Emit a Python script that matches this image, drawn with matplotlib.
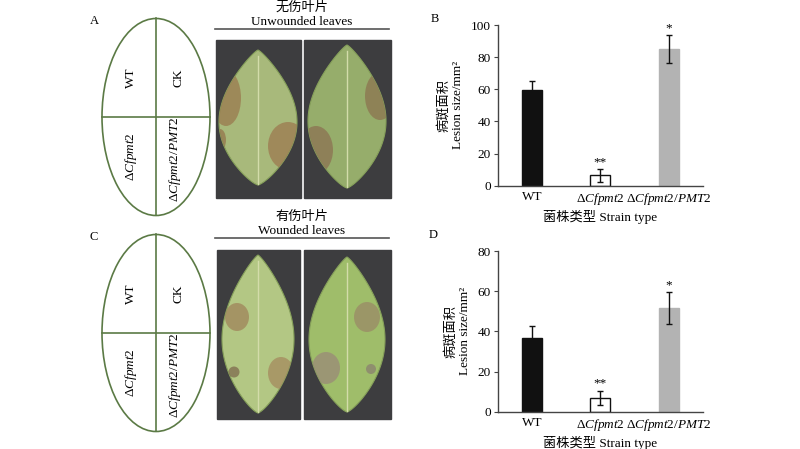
import numpy as np
import matplotlib
matplotlib.use("Agg")
import matplotlib.pyplot as plt
from matplotlib.patches import Ellipse, Rectangle, Polygon

plt.rcParams['font.family'] = ['Liberation Serif', 'Noto Sans CJK SC']
plt.rcParams['mathtext.fontset'] = 'custom'
plt.rcParams['mathtext.rm'] = 'Liberation Serif'
plt.rcParams['mathtext.it'] = 'Liberation Serif:italic'

# data
strains = ['WT', r'$\Delta\mathit{Cfpmt2}$', r'$\Delta\mathit{Cfpmt2/PMT2}$']
bar_colors = ['#111111', '#ffffff', '#b3b3b3']
unwounded_mean = [59.5, 6.5, 85.0]
unwounded_err = [5.5, 4.0, 8.5]
wounded_mean = [36.5, 7.0, 51.5]
wounded_err = [6.0, 3.5, 8.0]
signif = ['', '**', '*']
quadrants = ['WT', 'CK', r'$\Delta\mathit{Cfpmt2}$', r'$\Delta\mathit{Cfpmt2/PMT2}$']

W, H = 800, 449
fig = plt.figure(figsize=(8, 4.49), dpi=100)
bg = fig.add_axes([0, 0, 1, 1])
bg.set_xlim(0, W)
bg.set_ylim(H, 0)
bg.axis('off')

green = '#5b7a45'


def scheme(yc, ytop, ybot, letter):
    el = Ellipse((156, yc), 108, ybot - ytop, fill=False, ec=green, lw=1.2)
    bg.add_patch(el)
    bg.plot([156, 156], [ytop, ybot], color=green, lw=1.2)
    bg.plot([102, 210], [yc, yc], color=green, lw=1.2)
    h = (ybot - ytop) / 2
    pos = [(131, yc - h * 0.4), (178, yc - h * 0.4), (131, yc + h * 0.4), (175, yc + h * 0.43)]
    for (x, y), t in zip(pos, quadrants):
        bg.text(x, y, t, rotation=90, ha='center', va='center', fontsize=9.5)
    bg.text(94, ytop + 3, letter, ha='center', va='center', fontsize=9)


def leaf(x0, x1, y0, y1, cx, tip, base, halfw, color, spots):
    bg.add_patch(Rectangle((x0, y0), x1 - x0, y1 - y0, color='#3d3d3f', zorder=1))
    s = np.linspace(0, 1, 300)
    prof = np.sin(np.pi * s ** 1.1) ** 0.75
    prof = prof / prof.max() * halfw
    ys = tip + (base - tip) * s
    pts = np.vstack([np.column_stack([cx + prof, ys]),
                     np.column_stack([cx - prof, ys])[::-1]])
    lf = Polygon(pts, closed=True, fc=color, ec='#86a05a', lw=0.8, zorder=2)
    bg.add_patch(lf)
    for sx, sy, sw, sh, sc in spots:
        sp = Ellipse((sx, sy), sw, sh, fc=sc, ec='none', alpha=0.75, zorder=3)
        bg.add_patch(sp)
        sp.set_clip_path(lf)
    bg.plot([cx, cx], [tip + 6, base - 1], color='#d3dcaa', lw=1.0, zorder=4)


def header(y, cn, en):
    bg.text(302, y + 1, cn, ha='center', va='center', fontsize=9.5)
    bg.text(302, y + 15, en, ha='center', va='center', fontsize=9.5)
    bg.plot([215, 389], [y + 22, y + 22], color='#555555', lw=1.2)


# panel A
scheme(117, 18, 215, 'A')
header(7, '无伤叶片', 'Unwounded leaves')
leaf(215.7, 300.7, 40, 198, 258, 50, 185, 39, '#a8b97b',
     [(226, 98, 30, 56, '#9a7a4e'), (288, 146, 40, 48, '#9c7a50'), (220, 140, 12, 22, '#94764c')])
leaf(304.3, 390.7, 40, 198, 347, 45, 188, 39, '#96ad6b',
     [(380, 96, 30, 48, '#8c7450'), (316, 150, 34, 48, '#8c7252')])

# panel C
scheme(333, 234, 431, 'C')
header(216, '有伤叶片', 'Wounded leaves')
leaf(216.7, 300, 250, 419, 258, 255, 413, 36, '#b3c784',
     [(237, 317, 24, 28, '#a0845a'), (281, 373, 26, 32, '#a58a5e'), (234, 372, 11, 11, '#7e6a4e')])
leaf(304.3, 390.7, 250, 419, 347, 257, 412, 38, '#9fbd6a',
     [(367, 317, 26, 30, '#9a8a66'), (326, 368, 28, 32, '#9a8a78'), (371, 369, 10, 10, '#8a8070')])


def bars(rect, means, errs, ymax, step, letter, letter_xy):
    ax = fig.add_axes(rect)
    x = np.arange(len(means))
    ax.bar(x, means, width=0.29, color=bar_colors, edgecolor=['#111111', '#111111', '#b3b3b3'],
           linewidth=1.0, zorder=2)
    ax.errorbar(x, means, yerr=errs, fmt='none', ecolor='#111111', elinewidth=1.0,
                capsize=2.5, capthick=1.0, zorder=3)
    for xi, m, e, s in zip(x, means, errs, signif):
        if s:
            ax.text(xi, m + e + ymax * 0.005, s, ha='center', va='bottom', fontsize=9.5)
    ax.set_xlim(-0.5, 2.5)
    ax.set_ylim(0, ymax)
    ax.set_yticks(np.arange(0, ymax + 1, step))
    ax.set_xticks(x)
    ax.set_xticklabels(strains, fontsize=9.5)
    ax.tick_params(axis='x', length=0, pad=4)
    ax.tick_params(axis='y', length=3, labelsize=9.5, pad=2, color='#444444')
    for sp in ['top', 'right']:
        ax.spines[sp].set_visible(False)
    for sp in ['left', 'bottom']:
        ax.spines[sp].set_color('#444444')
        ax.spines[sp].set_linewidth(1.0)
    ax.set_ylabel('病斑面积\nLesion size/mm²', fontsize=9.5, linespacing=1.2, labelpad=5)
    ax.set_xlabel('菌株类型 Strain type', fontsize=9.5, labelpad=2)
    bg.text(letter_xy[0], letter_xy[1], letter, ha='center', va='center', fontsize=9)
    return ax


bars([497.7 / W, 1 - 185.7 / H, (703 - 497.7) / W, (185.7 - 25) / H],
     unwounded_mean, unwounded_err, 100, 20, 'B', (435, 19))
bars([497.7 / W, 1 - 411.7 / H, (703 - 497.7) / W, (411.7 - 251) / H],
     wounded_mean, wounded_err, 80, 20, 'D', (433, 235))

fig.savefig('out.png', dpi=100)
